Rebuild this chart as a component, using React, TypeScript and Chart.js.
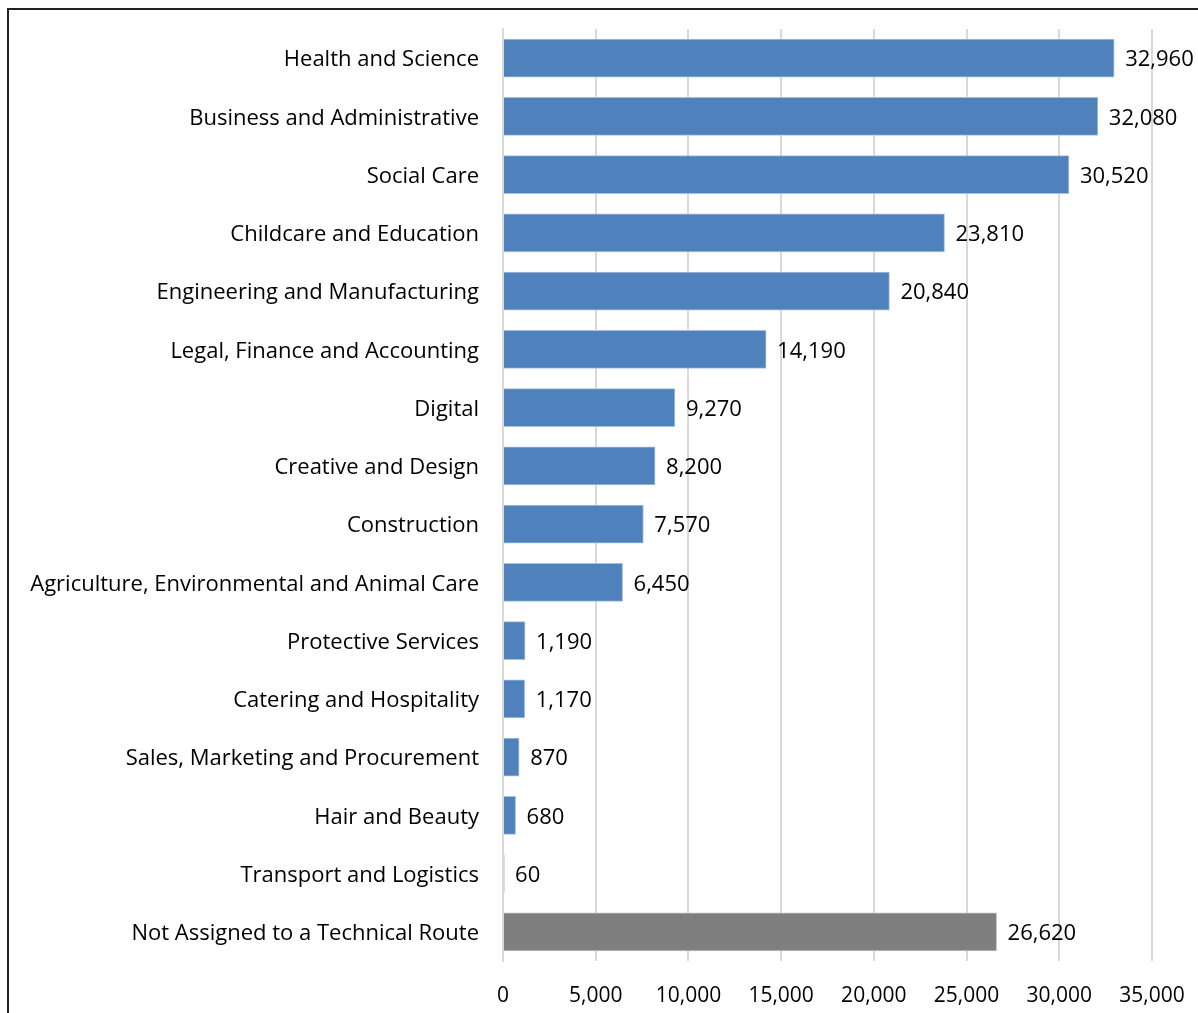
import React, { useEffect, useRef } from "react";
import { Chart, registerables } from "chart.js";

Chart.register(...registerables);

const categories = [
  "Health and Science",
  "Business and Administrative",
  "Social Care",
  "Childcare and Education",
  "Engineering and Manufacturing",
  "Legal, Finance and Accounting",
  "Digital",
  "Creative and Design",
  "Construction",
  "Agriculture, Environmental and Animal Care",
  "Protective Services",
  "Catering and Hospitality",
  "Sales, Marketing and Procurement",
  "Hair and Beauty",
  "Transport and Logistics",
  "Not Assigned to a Technical Route",
];

const values = [
  32960, 32080, 30520, 23810, 20840, 14190, 9270, 8200, 7570, 6450, 1190, 1170, 870, 680, 60, 26620,
];

const barColors = values.map((_, i) => (i === categories.length - 1 ? "#7f7f7f" : "#4f81bd"));
const barBorders = values.map((_, i) => (i === categories.length - 1 ? "#bfbfbf" : "#a7c0de"));

const xTicks = [0, 5000, 10000, 15000, 20000, 25000, 30000, 35000];

const FONT = "'Open Sans'";

const fmt = (v: number) => v.toLocaleString("en-US");

const labelPlugin = {
  id: "valueLabels",
  afterDatasetsDraw(chart: any) {
    const ctx = chart.ctx;
    const meta = chart.getDatasetMeta(0);
    ctx.save();
    ctx.font = `22px ${FONT}`;
    ctx.fillStyle = "#000";
    ctx.textBaseline = "middle";
    ctx.textAlign = "left";
    meta.data.forEach((bar: any, i: number) => {
      ctx.fillText(fmt(values[i]), bar.x + 11, bar.y + 2);
    });
    ctx.restore();
  },
};

export default function App() {
  const ref = useRef<HTMLCanvasElement>(null);
  useEffect(() => {
    if (!ref.current) return;
    const chart = new Chart(ref.current, {
      type: "bar",
      data: {
        labels: categories,
        datasets: [
          {
            data: values,
            backgroundColor: barColors,
            borderColor: barBorders,
            borderWidth: 1,
            barThickness: 38,
          },
        ],
      },
      options: {
        indexAxis: "y",
        responsive: false,
        animation: false,
        layout: { padding: { top: 29, right: 46, left: 0, bottom: 0 } },
        plugins: { legend: { display: false }, tooltip: { enabled: false } },
        scales: {
          x: {
            min: 0,
            max: 35000,
            afterBuildTicks: (scale: any) => {
              scale.ticks = xTicks.map((v) => ({ value: v }));
            },
            afterFit: (scale: any) => {
              scale.height = 52;
              scale.paddingLeft = 0;
              scale.paddingRight = 0;
            },
            grid: { color: "#d9d9d9", lineWidth: 2, drawTicks: false },
            border: { display: false },
            ticks: {
              padding: 22,
              color: "#000",
              font: { family: FONT, size: 21 },
              callback: (v: any) => fmt(Number(v)),
            },
          },
          y: {
            afterFit: (scale: any) => {
              scale.width = 503;
              scale.paddingTop = 0;
              scale.paddingBottom = 0;
            },
            grid: { display: false, drawTicks: false },
            border: { display: true, color: "#d9d9d9", width: 2 },
            ticks: {
              padding: 24,
              labelOffset: 2,
              color: "#000",
              font: { family: FONT, size: 22 },
            },
          },
        },
      },
      plugins: [labelPlugin],
    });
    return () => chart.destroy();
  }, []);
  return (
    <div style={{ position: "absolute", left: 0, top: 0, width: 1198, height: 1013, background: "#fff", overflow: "hidden" }}>
      <canvas ref={ref} width={1198} height={1013} style={{ position: "absolute", left: 0, top: 0 }} />
      <div
        style={{
          position: "absolute",
          left: 7,
          top: 8,
          width: 1400,
          height: 1200,
          borderLeft: "2px solid #222",
          borderTop: "2px solid #222",
          pointerEvents: "none",
        }}
      />
    </div>
  );
}
